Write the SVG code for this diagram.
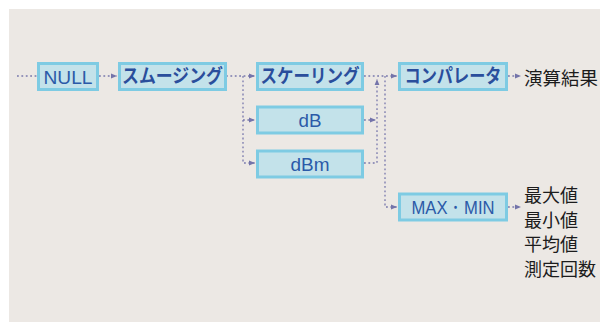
<svg xmlns="http://www.w3.org/2000/svg" width="600" height="322" viewBox="0 0 600 322">
<defs>
<style>
.box{fill:#c3e2ea;stroke:#7ecbe3;stroke-width:3}
.lat{font-family:"Liberation Sans",Arial,sans-serif;font-size:19px;fill:#2b5aa8;text-anchor:middle}
.kat{font-family:"Noto Sans CJK JP",sans-serif;font-size:19px;font-weight:bold;fill:#2a4e9c;text-anchor:middle}
.out{font-family:"Noto Sans CJK JP",sans-serif;font-size:18px;fill:#1c1c1c}
.ln{fill:none;stroke:#7878ac;stroke-width:1.3;stroke-dasharray:1.8 2.6}
</style>
<marker id="ah" viewBox="0 0 6 6" refX="6" refY="3" markerWidth="6" markerHeight="6" markerUnits="userSpaceOnUse" orient="auto">
<path d="M0,0.6 L6,3 L0,5.4 Z" fill="#7474aa"/>
</marker>
</defs>
<rect x="9" y="9" width="591" height="313" fill="#ece8e4"/>
<g id="connectors">
<path class="ln" d="M17,76 H37"/>
<path class="ln" d="M99,76 H117" marker-end="url(#ah)"/>
<path class="ln" d="M226,76 H255" marker-end="url(#ah)"/>
<path class="ln" d="M243,76 V163 H255" marker-end="url(#ah)"/>
<path class="ln" d="M243,120 H255" marker-end="url(#ah)"/>
<path class="ln" d="M364,76 H397" marker-end="url(#ah)"/>
<path class="ln" d="M364,120 H376" marker-end="url(#ah)"/>
<path class="ln" d="M364,163 H377 V79" marker-end="url(#ah)"/>
<path class="ln" d="M385,76 V207 H397" marker-end="url(#ah)"/>
<path class="ln" d="M508,76 H521" marker-end="url(#ah)"/>
<path class="ln" d="M508,207 H521" marker-end="url(#ah)"/>
</g>
<g id="null"><rect class="box" x="38.5" y="63.5" width="59" height="26"/><text class="lat" x="68" y="83.5" textLength="49" lengthAdjust="spacingAndGlyphs">NULL</text></g>
<g id="smoothing"><rect class="box" x="119.5" y="63.5" width="106" height="26"/><text class="kat" x="172.5" y="83" textLength="101" lengthAdjust="spacingAndGlyphs">スムージング</text></g>
<g id="scaling"><rect class="box" x="257.5" y="63.5" width="105" height="26"/><text class="kat" x="310" y="83" textLength="99" lengthAdjust="spacingAndGlyphs">スケーリング</text></g>
<g id="db"><rect class="box" x="257.5" y="107" width="105" height="26"/><text class="lat" x="310" y="127" textLength="23" lengthAdjust="spacingAndGlyphs">dB</text></g>
<g id="dbm"><rect class="box" x="257.5" y="151" width="105" height="26"/><text class="lat" x="310" y="170.5" textLength="39" lengthAdjust="spacingAndGlyphs">dBm</text></g>
<g id="comparator"><rect class="box" x="399.5" y="63.5" width="107" height="26"/><text class="kat" x="453" y="83" textLength="97" lengthAdjust="spacingAndGlyphs">コンパレータ</text></g>
<g id="maxmin"><rect class="box" x="399.5" y="194" width="107" height="26"/><text class="lat" x="453" y="214" textLength="83" lengthAdjust="spacingAndGlyphs">MAX・MIN</text></g>
<g id="result"><text class="out" x="524" y="84.5" textLength="74" lengthAdjust="spacingAndGlyphs">演算結果</text></g>
<g id="stats">
<text class="out" x="524" y="202">最大値</text>
<text class="out" x="524" y="226.5">最小値</text>
<text class="out" x="524" y="251">平均値</text>
<text class="out" x="524" y="275.5">測定回数</text>
</g>
</svg>
